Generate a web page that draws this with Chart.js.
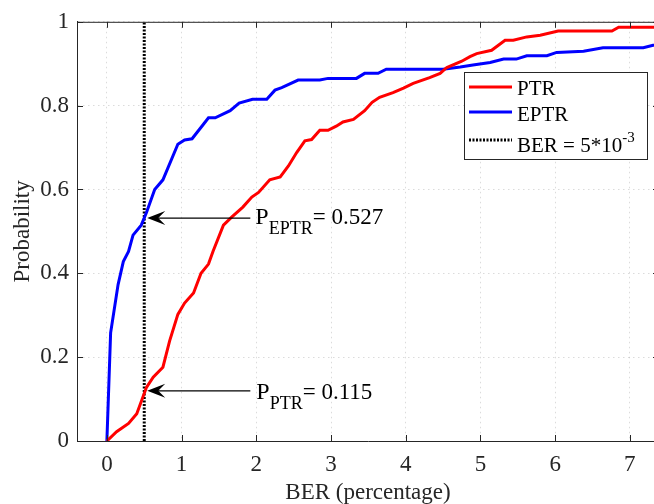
<!DOCTYPE html>
<html>
<head>
<meta charset="utf-8">
<script src="https://cdn.jsdelivr.net/npm/chart.js@4.4.1/dist/chart.umd.min.js"></script>
<style>
  html, body { margin: 0; padding: 0; overflow: hidden; background: #fff; }
  #wrap { width: 654px; height: 504px; overflow: hidden; }
</style>
</head>
<body>
<div id="wrap"><canvas id="cdf" width="662" height="504"></canvas></div>
<script>
// PTR curve (red)
const ptrX = [0, 0.13, 0.29, 0.40, 0.53, 0.62, 0.75, 0.84, 0.95, 1.04, 1.16, 1.26, 1.36, 1.42, 1.56, 1.67,
              1.82, 1.94, 2.03, 2.18, 2.32, 2.43, 2.54, 2.65, 2.74, 2.85, 2.96, 3.07, 3.16, 3.30, 3.45, 3.55,
              3.65, 3.83, 3.97, 4.10, 4.32, 4.46, 4.55, 4.75, 4.86, 4.95, 5.15, 5.33, 5.44, 5.62, 5.80, 6.04,
              6.76, 6.85, 7.31, 7.45];
const ptrY = [0, 0.022, 0.042, 0.065, 0.128, 0.152, 0.176, 0.239, 0.302, 0.329, 0.353, 0.400, 0.422, 0.452, 0.515, 0.534,
              0.558, 0.582, 0.593, 0.623, 0.630, 0.656, 0.688, 0.716, 0.719, 0.741, 0.741, 0.751, 0.761, 0.767, 0.788, 0.808,
              0.820, 0.831, 0.842, 0.853, 0.867, 0.877, 0.891, 0.906, 0.917, 0.924, 0.932, 0.956, 0.956, 0.964, 0.968, 0.978,
              0.978, 0.987, 0.987, 0.987];

// EPTR curve (blue)
const eptrX = [0, 0.05, 0.15, 0.22, 0.29, 0.35, 0.46, 0.53, 0.64, 0.75, 0.95, 1.04, 1.14, 1.29, 1.36, 1.45,
               1.65, 1.77, 1.95, 2.14, 2.25, 2.34, 2.56, 2.85, 2.96, 3.34, 3.45, 3.63, 3.74, 4.50, 4.73, 4.90,
               5.13, 5.31, 5.48, 5.62, 5.89, 6.02, 6.38, 6.64, 7.18, 7.31, 7.45];
const eptrY = [0, 0.258, 0.373, 0.428, 0.452, 0.491, 0.515, 0.545, 0.600, 0.623, 0.708, 0.718, 0.721, 0.755, 0.771, 0.771,
               0.788, 0.806, 0.815, 0.815, 0.837, 0.843, 0.861, 0.861, 0.865, 0.865, 0.877, 0.877, 0.887, 0.887, 0.892, 0.897,
               0.903, 0.911, 0.911, 0.919, 0.919, 0.927, 0.930, 0.938, 0.938, 0.944, 0.944];

// BER threshold line and the two read-off values
const berMark = 0.5;
const pEptr = 0.527;
const pPtr = 0.115;

const xTicks = [0, 1, 2, 3, 4, 5, 6, 7];
const yTicks = [0, 0.2, 0.4, 0.6, 0.8, 1];
const yLabels = ['0', '0.2', '0.4', '0.6', '0.8', '1'];

const serif = 'Liberation Serif';
const axisColor = '#262626';

function pts(xs, ys) {
    return xs.map((v, i) => ({x: v, y: ys[i]}));
}

// draws a MATLAB style arrow pointing left, tip at (tx, ty)
function arrow(ctx, x0, tx, ty) {
    ctx.strokeStyle = '#000';
    ctx.lineWidth = 1.3;
    ctx.beginPath();
    ctx.moveTo(x0, ty);
    ctx.lineTo(tx + 8, ty);
    ctx.stroke();
    ctx.fillStyle = '#000';
    ctx.beginPath();
    ctx.moveTo(tx, ty);
    ctx.lineTo(tx + 18, ty - 7);
    ctx.lineTo(tx + 11, ty);
    ctx.lineTo(tx + 18, ty + 7);
    ctx.closePath();
    ctx.fill();
}

function subText(ctx, x, base, main, sub, rest) {
    ctx.fillStyle = '#000';
    ctx.textBaseline = 'alphabetic';
    ctx.textAlign = 'left';
    ctx.font = '24px "' + serif + '"';
    ctx.fillText(main, x, base);
    x += ctx.measureText(main).width;
    ctx.font = '18px "' + serif + '"';
    ctx.fillText(sub, x, base + 10);
    x += ctx.measureText(sub).width;
    ctx.font = '23px "' + serif + '"';
    ctx.fillText(rest, x, base);
}

const deco = {
    id: 'deco',
    afterDraw(chart) {
        const {ctx, chartArea: a, scales: {x, y}} = chart;
        ctx.save();

        // box and inward ticks
        ctx.strokeStyle = axisColor;
        ctx.lineWidth = 1;
        ctx.beginPath();
        ctx.moveTo(a.left, a.top + 0.5);
        ctx.lineTo(a.right, a.top + 0.5);
        ctx.moveTo(a.right - 0.5, a.top);
        ctx.lineTo(a.right - 0.5, a.bottom);
        xTicks.forEach(v => {
            const px = Math.round(x.getPixelForValue(v)) + 0.5;
            ctx.moveTo(px, a.bottom);
            ctx.lineTo(px, a.bottom - 6);
            ctx.moveTo(px, a.top);
            ctx.lineTo(px, a.top + 6);
        });
        yTicks.forEach(v => {
            const py = Math.round(y.getPixelForValue(v)) + 0.5;
            ctx.moveTo(a.left, py);
            ctx.lineTo(a.left + 6, py);
            ctx.moveTo(a.right, py);
            ctx.lineTo(a.right - 6, py);
        });
        ctx.stroke();

        // arrows and labels
        const tipX = x.getPixelForValue(berMark) + 3;
        const tailX = x.getPixelForValue(1.92);
        const yE = y.getPixelForValue(pEptr) - 2;
        const yP = y.getPixelForValue(pPtr) - 2;
        arrow(ctx, tailX, tipX, yE);
        arrow(ctx, tailX, tipX, yP);
        subText(ctx, tailX + 5, yE + 6, 'P', 'EPTR', '= ' + pEptr.toFixed(3));
        subText(ctx, tailX + 6, yP + 8, 'P', 'PTR', '= ' + pPtr.toFixed(3));

        // legend
        const lx = 464.5, ly = 72.5, lw = 183, lh = 87;
        ctx.fillStyle = '#fff';
        ctx.fillRect(lx, ly, lw, lh);
        ctx.strokeStyle = '#262626';
        ctx.lineWidth = 1;
        ctx.strokeRect(lx, ly, lw, lh);
        const ds = chart.data.datasets;
        const rows = [87, 112, 140];
        ds.forEach((d, i) => {
            ctx.strokeStyle = d.borderColor;
            ctx.lineWidth = 3;
            ctx.setLineDash(d.borderDash || []);
            ctx.beginPath();
            ctx.moveTo(469, rows[i]);
            ctx.lineTo(512, rows[i]);
            ctx.stroke();
        });
        ctx.setLineDash([]);
        ctx.fillStyle = '#000';
        ctx.textAlign = 'left';
        ctx.textBaseline = 'alphabetic';
        ctx.font = '21px "' + serif + '"';
        ctx.fillText(ds[0].label, 517, 95);
        ctx.fillText(ds[1].label, 517, 121);
        const t = 'BER = 5*10';
        ctx.fillText(t, 517, 152);
        const w = ctx.measureText(t).width;
        ctx.font = '15px "' + serif + '"';
        ctx.fillText('-3', 517 + w, 142);

        ctx.restore();
    }
};

const tickFont = {family: serif, size: 23};
const gridOpts = {color: 'rgba(0,0,0,0.14)', drawTicks: false};
const borderOpts = {color: axisColor, width: 1, dash: [1.5, 3.5]};

new Chart(document.getElementById('cdf'), {
    type: 'scatter',
    data: {
        datasets: [{
            label: 'PTR',
            data: pts(ptrX, ptrY),
            showLine: true,
            borderColor: '#ff0000',
            borderWidth: 3,
            pointRadius: 0,
            tension: 0
        }, {
            label: 'EPTR',
            data: pts(eptrX, eptrY),
            showLine: true,
            borderColor: '#0000ff',
            borderWidth: 3,
            pointRadius: 0,
            tension: 0
        }, {
            label: 'BER = 5*10^-3',
            data: [{x: berMark, y: 0}, {x: berMark, y: 1}],
            showLine: true,
            borderColor: '#000',
            borderWidth: 3,
            borderDash: [2, 1.5],
            pointRadius: 0
        }]
    },
    options: {
        responsive: false,
        animation: false,
        layout: {padding: {left: 0, top: 18, right: 3, bottom: 0}},
        plugins: {legend: {display: false}, tooltip: {enabled: false}},
        scales: {
            x: {
                type: 'linear',
                min: -0.4,
                max: 7.39,
                afterBuildTicks: s => { s.ticks = xTicks.map(v => ({value: v})); },
                afterFit: s => { s.height = 63; },
                ticks: {font: tickFont, color: axisColor, padding: 10, callback: v => String(v)},
                grid: gridOpts,
                border: borderOpts,
                title: {display: true, text: 'BER (percentage)', color: axisColor,
                        font: {family: serif, size: 23, lineHeight: 1}, padding: 0}
            },
            y: {
                type: 'linear',
                min: 0,
                max: 1,
                afterBuildTicks: s => { s.ticks = yTicks.map(v => ({value: v})); },
                afterFit: s => { s.width = 77; },
                ticks: {font: tickFont, color: axisColor, padding: 8,
                        callback: (v, i) => yLabels[i]},
                grid: gridOpts,
                border: borderOpts,
                title: {display: true, text: 'Probability', color: axisColor,
                        font: {family: serif, size: 23, lineHeight: 1}, padding: {top: 11, bottom: 0}}
            }
        }
    },
    plugins: [deco]
});
</script>
</body>
</html>
